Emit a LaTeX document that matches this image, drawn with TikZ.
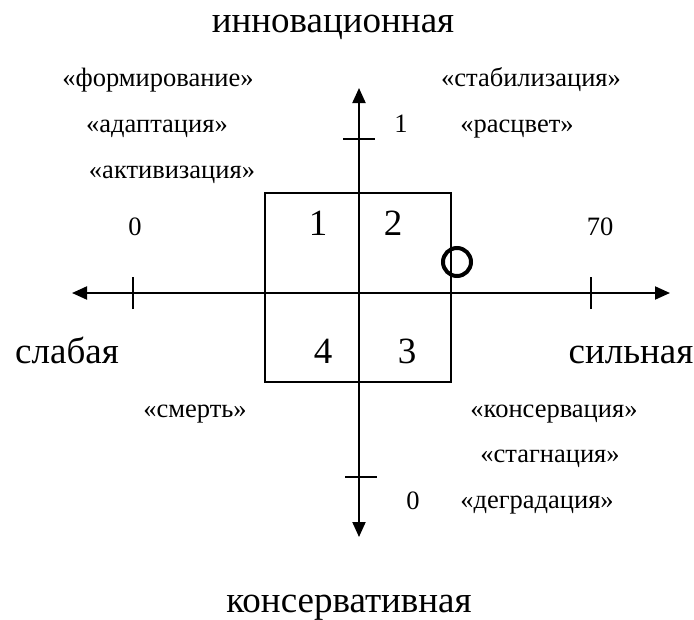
\documentclass[tikz,border=0pt]{standalone}
\usepackage{fontspec}
\setmainfont{Liberation Serif}
\usetikzlibrary{arrows.meta,positioning}

\tikzset{
  axisline/.style={line width=2pt,
    {Triangle[length=15pt,width=13pt]}-{Triangle[length=15pt,width=13pt]}},
  tickline/.style={line width=1.5pt},
  smalltext/.style={font=\fontsize{26.5}{30}\selectfont, inner sep=0pt, anchor=base},
  bigtext/.style={font=\fontsize{37}{42}\selectfont, inner sep=0pt, anchor=base},
}

\begin{document}
\begin{tikzpicture}[x=1pt,y=-1pt]
  \useasboundingbox (0,0) rectangle (694,619);

  % axes
  \coordinate (left)  at (72,293);
  \coordinate (right) at (670,293);
  \coordinate (top)   at (359,88);
  \coordinate (bottom) at (359,537);
  \draw[axisline] (left) -- (right);
  \draw[axisline] (top) -- (bottom);

  % ticks
  \coordinate (tickW) at (133,293);
  \coordinate (tickE) at (591,293);
  \coordinate (tickN) at (359,139);
  \coordinate (tickS) at (361,477);
  \draw[tickline] ([yshift=-16pt]tickW) -- ([yshift=16pt]tickW);
  \draw[tickline] ([yshift=-16pt]tickE) -- ([yshift=16pt]tickE);
  \draw[tickline] ([xshift=-16pt]tickN) -- ([xshift=16pt]tickN);
  \draw[tickline] ([xshift=-16pt]tickS) -- ([xshift=16pt]tickS);

  % quadrant box and position mark
  \node (quad) [draw, line width=1.5pt, minimum width=186pt, minimum height=189pt,
                inner sep=0pt, outer sep=0pt] at (358,287.5) {};
  \node (state) [circle, draw, line width=4pt, minimum size=28pt, inner sep=0pt]
    at (457,262) {};

  % axis titles
  \node (innov) [bigtext] at (333,32) {инновационная};
  \node (conserv) [bigtext] at (349,612) {консервативная};
  \node (weak) [bigtext] at (67,363) {слабая};
  \node (strong) [bigtext] at (631,363) {сильная};

  % scale values
  \node (zeroW) [smalltext] at (135,235) {0};
  \node (seventy) [smalltext] at (600,235) {70};
  \node (oneN) [smalltext] at (401,132) {1};
  \node (zeroS) [smalltext] at (413,509) {0};

  % quadrant numbers
  \node (q1) [bigtext] at (318,235) {1};
  \node (q2) [bigtext] at (393,235) {2};
  \node (q3) [bigtext] at (407,363) {3};
  \node (q4) [bigtext] at (323,363) {4};

  % stages
  \node (form) [smalltext] at (158,86) {«формирование»};
  \node (adapt) [smalltext] at (157,132) {«адаптация»};
  \node (activ) [smalltext] at (172,178) {«активизация»};
  \node (stab) [smalltext] at (531,86) {«стабилизация»};
  \node (bloom) [smalltext] at (517,132) {«расцвет»};
  \node (death) [smalltext] at (195,417) {«смерть»};
  \node (cons) [smalltext] at (554,417) {«консервация»};
  \node (stag) [smalltext] at (550,462) {«стагнация»};
  \node (degr) [smalltext] at (537,508) {«деградация»};
\end{tikzpicture}
\end{document}
